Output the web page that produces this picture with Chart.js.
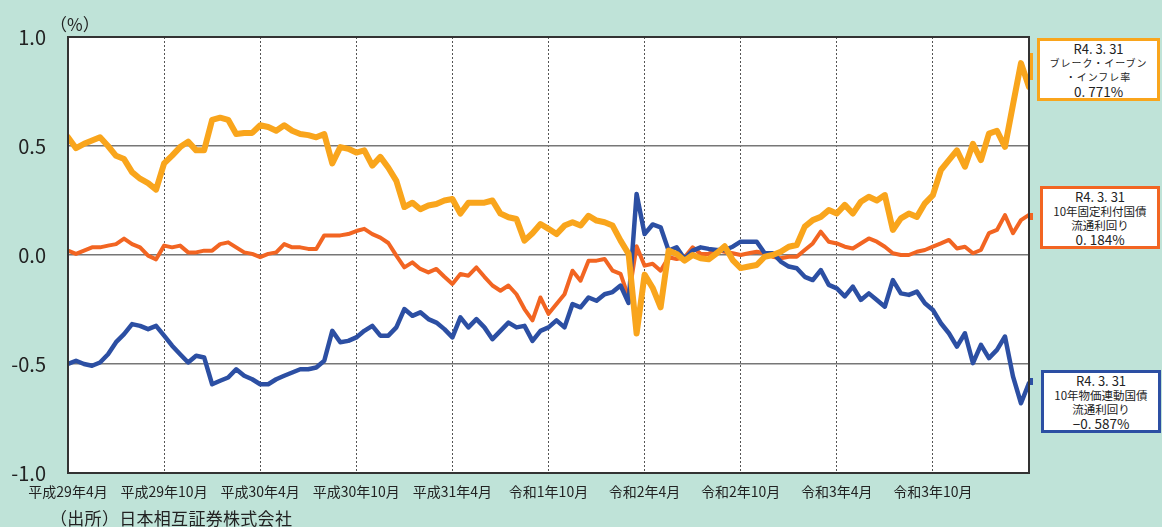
<!DOCTYPE html>
<html lang="ja">
<head>
<meta charset="utf-8">
<title>ブレーク・イーブン・インフレ率の推移</title>
<script src="https://cdn.jsdelivr.net/npm/chart.js@4.4.1/dist/chart.umd.min.js"></script>
<style>
  html, body { margin: 0; padding: 0; }
  body {
    width: 1162px; height: 527px; overflow: hidden; position: relative;
    background: #bfe3d8;
    font-family: "Noto Sans CJK JP", "Noto Sans", sans-serif;
    color: #222;
  }
  #chart { position: absolute; left: 0; top: 0; }
  .unit { position: absolute; left: 50px; top: 11px; font-size: 17px; }
  .source { position: absolute; left: 50px; top: 505px; font-size: 17px; letter-spacing: 0.3px; }
  .box {
    position: absolute; background: #fff; box-sizing: border-box;
    border: 3.5px solid; text-align: center; line-height: 14px; padding-top: 1px;
  }
  .box .d { font-size: 13px; }
  .box .n { font-size: 11.5px; }
  .box .s { font-size: 10px; letter-spacing: 1px; }
  .box .v { font-size: 13.5px; }
  .stub { position: absolute; width: 3px; }
</style>
</head>
<body>
<canvas id="chart" width="1162" height="527"></canvas>

<div class="unit">（%）</div>
<div class="source">（出所）日本相互証券株式会社</div>

<span class="stub" style="left:1030px;top:53px;height:27px;background:#f9a51c"></span>
<span class="stub" style="left:1030px;top:213px;height:7px;background:#f26522"></span>
<span class="stub" style="left:1030px;top:378px;height:7px;background:#2c4fa3"></span>

<div class="box" style="left:1037px;top:38px;width:123px;height:63px;border-color:#f9a51c">
  <div class="d">R4. 3. 31</div>
  <div class="s">ブレーク・イーブン</div>
  <div class="s">・インフレ率</div>
  <div class="v">0. 771%</div>
</div>
<div class="box" style="left:1040px;top:186px;width:120px;height:63px;border-color:#f26522">
  <div class="d">R4. 3. 31</div>
  <div class="n">10年固定利付国債</div>
  <div class="n">流通利回り</div>
  <div class="v">0. 184%</div>
</div>
<div class="box" style="left:1041px;top:370px;width:120px;height:63px;border-color:#2c4fa3">
  <div class="d">R4. 3. 31</div>
  <div class="n">10年物価連動国債</div>
  <div class="n">流通利回り</div>
  <div class="v">−0. 587%</div>
</div>

<script>
// half-month steps from 2017/04 to 2022/03 (0..120)
const periods = Array.from({ length: 121 }, (_, i) => i);

const xTickLabels = ['平成29年4月', '平成29年10月', '平成30年4月', '平成30年10月', '平成31年4月',
  '令和1年10月', '令和2年4月', '令和2年10月', '令和3年4月', '令和3年10月'];

// ブレーク・イーブン・インフレ率
const bei = [
  0.54, 0.49, 0.51, 0.525, 0.54, 0.50, 0.455, 0.44, 0.38, 0.35,
  0.33, 0.30, 0.42, 0.456, 0.495, 0.52, 0.48, 0.48, 0.62, 0.63,
  0.62, 0.555, 0.56, 0.56, 0.595, 0.587, 0.57, 0.595, 0.57, 0.555,
  0.55, 0.54, 0.555, 0.42, 0.495, 0.487, 0.47, 0.48, 0.41, 0.45,
  0.40, 0.34, 0.22, 0.24, 0.21, 0.227, 0.234, 0.25, 0.257, 0.19,
  0.24, 0.24, 0.24, 0.25, 0.19, 0.173, 0.165, 0.066, 0.10, 0.142,
  0.12, 0.096, 0.135, 0.15, 0.135, 0.18, 0.158, 0.15, 0.135, 0.066,
  0.005, -0.36, -0.09, -0.15, -0.24, 0.02, 0.005, -0.026, 0.0, -0.015,
  -0.02, 0.008, 0.04, -0.023, -0.06, -0.053, -0.046, -0.008, 0.0, 0.015,
  0.038, 0.046, 0.13, 0.16, 0.175, 0.206, 0.19, 0.23, 0.19, 0.244,
  0.267, 0.25, 0.275, 0.115, 0.168, 0.19, 0.175, 0.237, 0.275, 0.39,
  0.435, 0.48, 0.405, 0.51, 0.435, 0.557, 0.57, 0.496, 0.69, 0.88,
  0.771
];

// 10年固定利付国債 流通利回り
const jgb10 = [
  0.02, 0.005, 0.02, 0.035, 0.035, 0.043, 0.05, 0.075, 0.05, 0.035,
  -0.003, -0.02, 0.043, 0.035, 0.043, 0.012, 0.012, 0.02, 0.02, 0.05,
  0.058, 0.035, 0.012, 0.005, -0.01, 0.005, 0.012, 0.05, 0.035, 0.035,
  0.028, 0.028, 0.09, 0.09, 0.09, 0.096, 0.11, 0.12, 0.096, 0.08,
  0.055, -0.003, -0.057, -0.034, -0.064, -0.08, -0.064, -0.10, -0.133, -0.087,
  -0.095, -0.057, -0.10, -0.14, -0.164, -0.14, -0.18, -0.248, -0.30, -0.195,
  -0.27, -0.225, -0.18, -0.072, -0.118, -0.026, -0.026, -0.018, -0.072, -0.087,
  -0.195, 0.04, -0.049, -0.04, -0.072, -0.01, -0.018, -0.01, 0.035, 0.005,
  0.005, 0.023, 0.015, 0.008, 0.0, 0.008, 0.015, 0.008, -0.008, -0.015,
  -0.008, -0.008, 0.023, 0.053, 0.107, 0.061, 0.053, 0.038, 0.03, 0.053,
  0.076, 0.061, 0.038, 0.008, 0.0, 0.0, 0.015, 0.023, 0.038, 0.053,
  0.069, 0.03, 0.038, 0.008, 0.023, 0.10, 0.115, 0.183, 0.10, 0.16,
  0.184
];

// 10年物価連動国債 流通利回り
const jgbi10 = [
  -0.50, -0.485, -0.50, -0.508, -0.493, -0.455, -0.40, -0.363, -0.317, -0.325,
  -0.34, -0.325, -0.37, -0.416, -0.455, -0.493, -0.462, -0.47, -0.593, -0.577,
  -0.562, -0.524, -0.554, -0.57, -0.593, -0.593, -0.57, -0.554, -0.539, -0.524,
  -0.524, -0.516, -0.485, -0.348, -0.40, -0.394, -0.378, -0.348, -0.325, -0.37,
  -0.37, -0.332, -0.248, -0.279, -0.263, -0.294, -0.31, -0.34, -0.378, -0.286,
  -0.332, -0.294, -0.332, -0.386, -0.348, -0.31, -0.332, -0.325, -0.394, -0.348,
  -0.332, -0.30, -0.332, -0.225, -0.24, -0.195, -0.21, -0.18, -0.17, -0.14,
  -0.22, 0.28, 0.096, 0.14, 0.127, 0.02, 0.035, -0.018, 0.02, 0.035,
  0.028, 0.023, 0.023, 0.038, 0.061, 0.061, 0.061, 0.008, 0.008, -0.03,
  -0.053, -0.061, -0.10, -0.115, -0.069, -0.137, -0.153, -0.19, -0.145, -0.206,
  -0.176, -0.206, -0.237, -0.115, -0.176, -0.183, -0.168, -0.221, -0.252, -0.313,
  -0.359, -0.42, -0.359, -0.496, -0.412, -0.473, -0.435, -0.374, -0.557, -0.68,
  -0.587
];

const plotBg = {
  id: 'plotBg',
  beforeDraw(chart) {
    const { ctx, chartArea: a } = chart;
    ctx.save();
    ctx.fillStyle = '#fff';
    ctx.fillRect(a.left, a.top, a.right - a.left, a.bottom - a.top);
    ctx.restore();
  },
  afterDatasetsDraw(chart) {
    const { ctx, chartArea: a } = chart;
    ctx.save();
    ctx.strokeStyle = '#333';
    ctx.lineWidth = 2;
    ctx.strokeRect(a.left, a.top, a.right - a.left, a.bottom - a.top);
    ctx.restore();
  }
};

const line = (label, data, color, width) => ({
  label, data, borderColor: color, backgroundColor: color,
  borderWidth: width, pointRadius: 0, tension: 0, fill: false,
  borderJoinStyle: 'round', borderCapStyle: 'round'
});

new Chart(document.getElementById('chart'), {
  type: 'line',
  data: {
    labels: periods,
    datasets: [
      line('ブレーク・イーブン・インフレ率', bei, '#f9a51c', 6),
      line('10年物価連動国債流通利回り', jgbi10, '#2c4fa3', 4.5),
      line('10年固定利付国債流通利回り', jgb10, '#f26522', 4)
    ]
  },
  options: {
    responsive: false,
    animation: false,
    devicePixelRatio: 1,
    layout: { padding: { top: 37, right: 133, left: 0, bottom: 0 } },
    plugins: { legend: { display: false }, tooltip: { enabled: false } },
    scales: {
      x: {
        type: 'linear', min: 0, max: 120,
        afterFit(s) { s.height = 54; },
        ticks: {
          stepSize: 12, autoSkip: false, maxRotation: 0, padding: 10,
          color: '#222', font: { family: '"Noto Sans CJK JP"', size: 14 },
          callback: v => xTickLabels[v / 12] || ''
        },
        grid: { color: '#555', lineWidth: 1, drawTicks: false },
        border: { display: true, color: '#222', width: 2, dash: [2, 2] }
      },
      y: {
        min: -1, max: 1,
        afterFit(s) { s.width = 68; },
        ticks: {
          stepSize: 0.5, padding: 22, color: '#222',
          font: { family: '"Noto Sans CJK JP"', size: 20 },
          callback: v => v.toFixed(1)
        },
        grid: { color: '#777', lineWidth: 1.5, drawTicks: false },
        border: { display: true, color: '#222', width: 2 }
      }
    }
  },
  plugins: [plotBg]
});
</script>
</body>
</html>
